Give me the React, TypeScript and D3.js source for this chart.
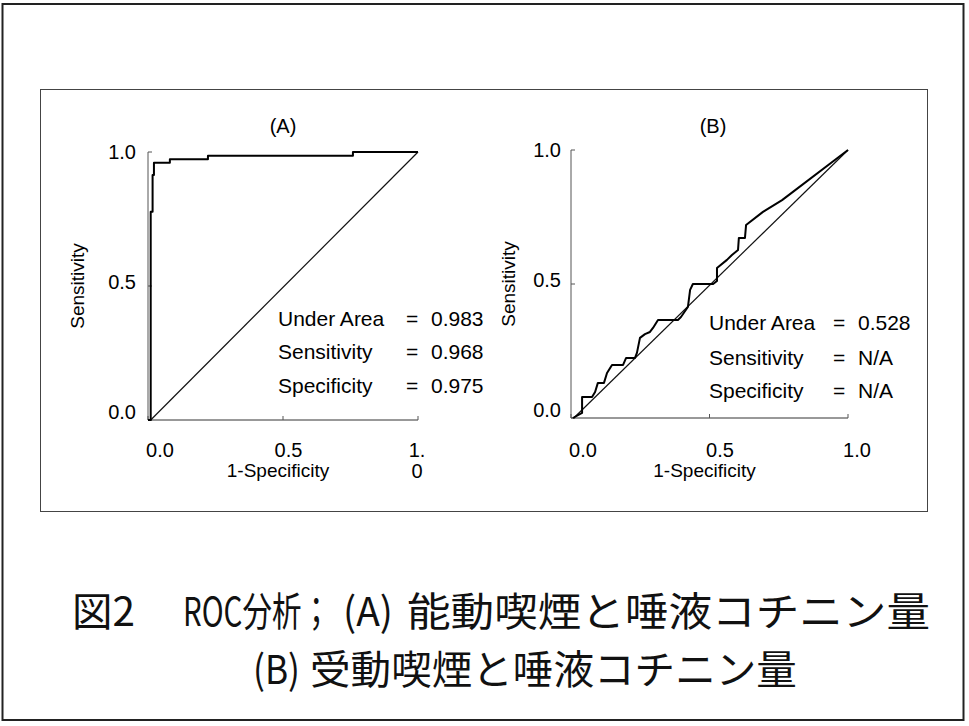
import React, { useLayoutEffect, useRef, useState } from "react";
import * as d3 from "d3";

const ticks = [0, 0.5, 1];
const yTickLabels = ["0.0", "0.5", "1.0"];
const xTickLabelsA = ["0.0", "0.5", "1.\n0"];
const xTickLabelsB = ["0.0", "0.5", "1.0"];

const rocAFpr = [0, 0.01, 0.01, 0.017, 0.017, 0.022, 0.022, 0.081, 0.081, 0.222, 0.222, 0.759, 0.759, 1];
const rocATpr = [0, 0, 0.777, 0.777, 0.914, 0.914, 0.96, 0.96, 0.973, 0.973, 0.986, 0.986, 1, 1];

const rocBFpr = [0.007, 0.04, 0.04, 0.076, 0.087, 0.097, 0.119, 0.13, 0.148, 0.188, 0.199, 0.231, 0.238, 0.249, 0.267, 0.285, 0.296, 0.314, 0.386, 0.397, 0.422, 0.43, 0.44, 0.513, 0.527, 0.527, 0.563, 0.581, 0.603, 0.606, 0.628, 0.632, 0.693, 0.762, 1];
const rocBTpr = [0, 0.019, 0.078, 0.078, 0.097, 0.131, 0.131, 0.168, 0.198, 0.198, 0.224, 0.224, 0.243, 0.299, 0.313, 0.321, 0.336, 0.366, 0.366, 0.377, 0.414, 0.478, 0.5, 0.5, 0.511, 0.56, 0.59, 0.608, 0.627, 0.672, 0.672, 0.72, 0.769, 0.813, 1];

const statLabels = ["Under Area", "Sensitivity", "Specificity"];
const statValuesA = ["0.983", "0.968", "0.975"];
const statValuesB = ["0.528", "N/A", "N/A"];

const captionFig = "図2";
const captionRoc = "ROC分析；";
const captionTagA = "(A)";
const captionTextA = "能動喫煙と唾液コチニン量";
const captionTagB = "(B)";
const captionTextB = "受動喫煙と唾液コチニン量";

const latin = "'Liberation Sans', Arial, sans-serif";
const cjk = "'Noto Sans CJK JP', 'Noto Sans CJK SC', sans-serif";

function FitText({ x, y, w, children }: { x: number; y: number; w: number; children: string }) {
  const ref = useRef<SVGTextElement>(null);
  const [s, setS] = useState(1);
  useLayoutEffect(() => {
    if (ref.current) {
      const n = ref.current.getComputedTextLength();
      if (n > 0) setS(w / n);
    }
  }, [w, children]);
  return (
    <text ref={ref} x={0} y={0} transform={`translate(${x},${y}) scale(${s},1)`}>{children}</text>
  );
}

type PanelProps = {
  title: string;
  x0: number; x1: number; y0: number; y1: number;
  fpr: number[]; tpr: number[];
  xLabels: string[];
  labelRightPad: number;
  statX: number; eqX: number; valX: number; statBase: number[];
  values: string[];
  titleX: number;
  yTickRight: number;
  yTitleX: number;
};

function Panel(p: PanelProps) {
  const x = d3.scaleLinear().domain([0, 1]).range([p.x0, p.x1]);
  const y = d3.scaleLinear().domain([0, 1]).range([p.y0, p.y1]);
  const xl = d3.scaleLinear().domain([0, 1]).range([p.x0 + 12, p.x1 + p.labelRightPad]);
  const line = d3.line<number>().x((_, i) => x(p.fpr[i])).y((_, i) => y(p.tpr[i]));
  const pts = p.fpr.map((v) => v);
  return (
    <g>
      <text x={p.titleX} y={133} textAnchor="middle" fontFamily={latin} fontSize={20}>{p.title}</text>
      <line x1={x(0)} x2={x(0)} y1={y(0)} y2={y(1)} stroke="#555" strokeWidth={1} />
      <line x1={x(0)} x2={x(1)} y1={y(0)} y2={y(0)} stroke="#333" strokeWidth={1} />
      {ticks.map((t) => (
        <line key={"yt" + t} x1={x(0)} x2={x(0) + 4} y1={y(t)} y2={y(t)} stroke="#555" strokeWidth={1} />
      ))}
      {ticks.map((t) => (
        <line key={"xt" + t} x1={x(t)} x2={x(t)} y1={y(0)} y2={y(0) - 4} stroke="#555" strokeWidth={1} />
      ))}
      {ticks.map((t, i) => (
        <text key={"yl" + t} x={p.yTickRight} y={y(t) + 7 - (1 - t) * 8} textAnchor="end" fontFamily={latin} fontSize={20}>{yTickLabels[i]}</text>
      ))}
      {ticks.map((t, i) => {
        const parts = p.xLabels[i].split("\n");
        return (
          <text key={"xl" + t} x={xl(t)} y={457} textAnchor="middle" fontFamily={latin} fontSize={20}>
            {parts.map((s, j) => (
              <tspan key={j} x={xl(t)} dy={j === 0 ? 0 : 21}>{s}</tspan>
            ))}
          </text>
        );
      })}
      <text x={x(0.5) - 5} y={477} textAnchor="middle" fontFamily={latin} fontSize={19}>1-Specificity</text>
      <text transform={`translate(${p.yTitleX},${y(0.5)}) rotate(-90)`} textAnchor="middle" fontFamily={latin} fontSize={19}>Sensitivity</text>
      <line x1={x(0.01)} y1={y(0)} x2={x(1)} y2={y(1)} stroke="#111" strokeWidth={1.2} />
      <path d={line(pts) || ""} fill="none" stroke="#000" strokeWidth={2} strokeLinejoin="round" />
      {statLabels.map((s, i) => (
        <g key={s} fontFamily={latin} fontSize={21}>
          <text x={p.statX} y={p.statBase[i]}>{s}</text>
          <text x={p.eqX} y={p.statBase[i]}>=</text>
          <text x={p.valX} y={p.statBase[i]}>{p.values[i]}</text>
        </g>
      ))}
    </g>
  );
}

export default function App() {
  return (
    <svg width={969} height={726} style={{ display: "block", position: "absolute", left: 0, top: 0 }}>
      <rect x={0} y={0} width={969} height={726} fill="#fff" />
      <rect x={2.5} y={4} width={961} height={716} fill="none" stroke="#222" strokeWidth={2} />
      <rect x={40.5} y={89.5} width={887} height={422} fill="none" stroke="#444" strokeWidth={1} />
      <Panel
        title="(A)" titleX={283}
        x0={148} x1={418} y0={420} y1={152}
        fpr={rocAFpr} tpr={rocATpr}
        xLabels={xTickLabelsA} labelRightPad={-1}
        statX={278} eqX={406} valX={431} statBase={[326, 359, 393]}
        values={statValuesA}
        yTickRight={136} yTitleX={84}
      />
      <Panel
        title="(B)" titleX={713}
        x0={571} x1={848} y0={418} y1={150}
        fpr={rocBFpr} tpr={rocBTpr}
        xLabels={xTickLabelsB} labelRightPad={9}
        statX={709} eqX={833} valX={858} statBase={[330, 365, 398]}
        values={statValuesB}
        yTickRight={561} yTitleX={515}
      />
      <g fontFamily={cjk} fontSize={40} fill="#111">
        <FitText x={72} y={626} w={63}>{captionFig}</FitText>
        <FitText x={183} y={626} w={148}>{captionRoc}</FitText>
        <FitText x={343} y={626} w={50}>{captionTagA}</FitText>
        <FitText x={407} y={626} w={523}>{captionTextA}</FitText>
        <FitText x={253} y={684} w={47}>{captionTagB}</FitText>
        <FitText x={310} y={684} w={487}>{captionTextB}</FitText>
      </g>
    </svg>
  );
}
